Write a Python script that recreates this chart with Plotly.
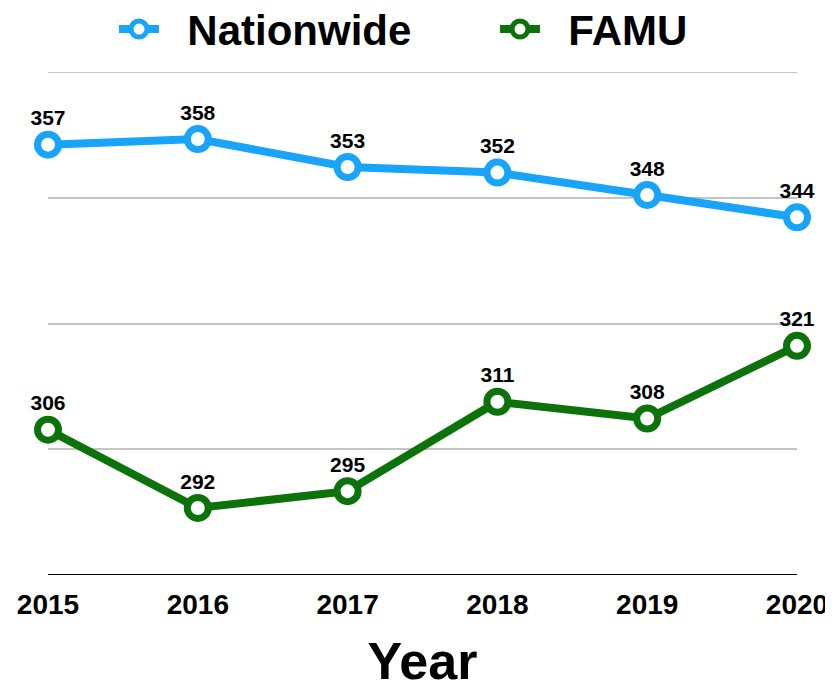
import plotly.graph_objects as go

years = ["2015", "2016", "2017", "2018", "2019", "2020"]
nationwide = [357, 358, 353, 352, 348, 344]
famu = [306, 292, 295, 311, 308, 321]

font = "Liberation Sans, Arial, sans-serif"
blue = "#18A4F8"
green = "#0B730A"
pad = "\u00a0\u00a0"

fig = go.Figure()
fig.add_trace(go.Scatter(
    x=years, y=nationwide, name=pad + "Nationwide", mode="lines+markers+text", legend="legend",
    line=dict(color=blue, width=8),
    marker=dict(symbol="circle", size=21, color="white", line=dict(color=blue, width=7)),
    text=[str(v) for v in nationwide], textposition="top center",
    textfont=dict(size=21, color="black", family=font, weight="bold"),
))
fig.add_trace(go.Scatter(
    x=years, y=famu, name=pad + "FAMU", mode="lines+markers+text", legend="legend2",
    line=dict(color=green, width=8),
    marker=dict(symbol="circle", size=21, color="white", line=dict(color=green, width=7)),
    text=[str(v) for v in famu], textposition="top center",
    textfont=dict(size=21, color="black", family=font, weight="bold"),
))

legend_style = dict(orientation="h", xanchor="left", yanchor="middle", y=1.085,
                    xref="container", yref="paper", bgcolor="rgba(0,0,0,0)",
                    font=dict(size=42, family=font, weight="bold"), itemwidth=40)

# page body has an 8px margin, so the figure is drawn 8px smaller
fig.update_layout(
    width=825, height=682,
    margin=dict(l=40, r=36, t=64, b=115, autoexpand=False),
    plot_bgcolor="white", paper_bgcolor="white",
    font=dict(family=font, color="black"),
    showlegend=True,
    legend=dict(x=0.1285, **legend_style),
    legend2=dict(x=0.5903, **legend_style),
    xaxis=dict(
        range=[0, 5], showgrid=False, zeroline=False, showline=False, automargin=False,
        tickfont=dict(size=28, family=font, weight="bold"), ticks="", ticklabelstandoff=10,
        title=dict(text="Year", font=dict(size=52, family=font, weight="bold"), standoff=30),
    ),
    yaxis=dict(
        range=[280, 370], tick0=280, dtick=22.5, showticklabels=False, automargin=False,
        showgrid=True, gridcolor="#C4C4C4", gridwidth=2,
        zeroline=False, showline=False, ticks="",
    ),
)
fig.add_hline(y=370, line=dict(color="#C4C4C4", width=2), layer="below")
fig.add_hline(y=280, line=dict(color="black", width=2))
fig.update_traces(cliponaxis=False)

fig.write_html("out.html")
